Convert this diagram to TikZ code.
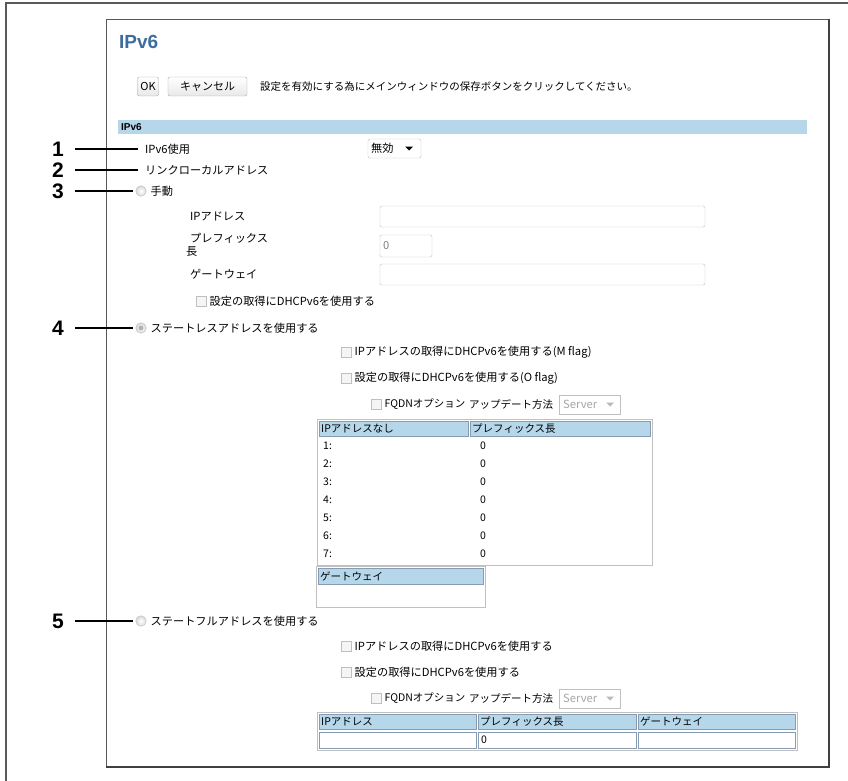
\documentclass[tikz,border=0pt]{standalone}
\usepackage{fontspec}
\setmainfont{Noto Sans CJK JP}
\newfontfamily\arial{Liberation Sans}
\usetikzlibrary{positioning}

\definecolor{hdrblue}{RGB}{182,214,234}
\definecolor{hdrline}{RGB}{135,155,178}
\definecolor{titleblue}{RGB}{62,108,158}
\definecolor{boxline}{RGB}{192,192,192}

\tikzset{
  ui/.style={anchor=west, inner sep=0pt, font=\fontsize{11.2}{12}\selectfont},
  small/.style={anchor=west, inner sep=0pt, font=\fontsize{10.5}{11}\selectfont},
  num/.style={inner sep=0pt, font=\arial\bfseries\fontsize{21}{21}\selectfont},
  lead/.style={line width=1.6pt, shorten <=11pt},
  field/.style={draw=boxline, fill=white, rounded corners=1.5pt},
  chk/.style={draw=gray!50, fill=gray!8, minimum size=10.5pt, inner sep=0pt},
  radio/.style={circle, draw=gray!55, inner color=white, outer color=gray!30, minimum size=10.5pt, inner sep=0pt},
  btn/.style={draw=gray!70, rounded corners=2pt, top color=white, bottom color=gray!18,
    inner sep=0pt, minimum height=19pt, font=\fontsize{11}{12}\selectfont},
  hdr/.style={draw=hdrline, fill=hdrblue},
}

\begin{document}
\begin{tikzpicture}[x=1pt, y=-1pt]
  \useasboundingbox (0,0) rectangle (848,781);

  % frames
  \draw[black!65, line width=1.4pt] (6,781) -- (6,3) -- (848,3);
  \draw[gray!70!black, line width=0.8pt] (106,19) rectangle (829,767);
  \draw[black!75, line width=1.3pt] (829,19) -- (829,767) -- (106,767);

  % title and buttons
  \node[anchor=west, inner sep=0pt, text=titleblue, font=\arial\bfseries\fontsize{19}{19}\selectfont] (title) at (119,42) {IPv6};
  \node[btn, minimum width=21pt] (ok) at (148,86.5) {OK};
  \node[btn, minimum width=79pt] (cancel) at (207.5,86.5) {キャンセル};
  \node[small] (msg) at (260,86.5) {設定を有効にする為にメインウィンドウの保存ボタンをクリックしてください。};

  % section bar
  \fill[hdrblue] (118,120) rectangle (807,134);
  \node[anchor=west, inner sep=0pt, font=\arial\bfseries\fontsize{10}{10}\selectfont] (sec) at (121,127) {IPv6};

  % 1, 2
  \node[num] (n1) at (58,149) {1};
  \node[ui] (t1) at (145,149) {IPv6使用};
  \draw[field] (368,139) rectangle (421,158);
  \node[ui] (sel) at (371,148.5) {無効};
  \fill (405,146.5) -- (413,146.5) -- (409,150.5) -- cycle;
  \draw[lead, shorten >=7pt] (n1.east) -- (t1.west);

  \node[num] (n2) at (58,170) {2};
  \node[ui] (t2) at (145,170) {リンクローカルアドレス};
  \draw[lead, shorten >=7pt] (n2.east) -- (t2.west);

  % 3 manual
  \node[num] (n3) at (58,191) {3};
  \node[radio] (r3) at (141,191) {};
  \node[ui, right=4pt of r3] (t3) {手動};
  \draw[lead, shorten >=3pt] (n3.east) -- (r3.west);

  \node[ui] (ipa) at (190,216) {IPアドレス};
  \draw[field] (380,206) rectangle (705,227);
  \node[ui] (pre) at (190,238) {プレフィックス};
  \node[ui] (pre2) at (186,251) {長};
  \draw[field] (380,235) rectangle (432,257);
  \node[ui, text=gray] (pre0) at (383,246) {0};
  \node[ui] (gw) at (190,274) {ゲートウェイ};
  \draw[field] (380,264) rectangle (705,285);
  \node[chk] (c0) at (201,301) {};
  \node[ui, right=3pt of c0] (c0t) {設定の取得にDHCPv6を使用する};

  % 4 stateless
  \node[num] (n4) at (58,328) {4};
  \node[radio] (r4) at (141,328) {};
  \fill[gray!60] (r4) circle (2.4pt);
  \node[ui, right=4pt of r4] (t4) {ステートレスアドレスを使用する};
  \draw[lead, shorten >=3pt] (n4.east) -- (r4.west);

  \node[chk] (c1) at (346,352) {};
  \node[ui, right=3pt of c1] (c1t) {IPアドレスの取得にDHCPv6を使用する(M flag)};
  \node[chk] (c2) at (346,378) {};
  \node[ui, right=3pt of c2] (c2t) {設定の取得にDHCPv6を使用する(O flag)};
  \node[chk] (c3) at (376,404) {};
  \node[small, right=3pt of c3] (c3t) {FQDNオプション};
  \node[small] (upd) at (469,404) {アップデート方法};
  \draw[draw=boxline, fill=white] (559,395) rectangle (620,414);
  \node[ui, text=gray!70] (srv) at (563,404.5) {Server};
  \fill[gray!55] (606,402.5) -- (614,402.5) -- (610,406.5) -- cycle;

  % address table
  \draw[draw=boxline, fill=white] (317,419) rectangle (652,565);
  \draw[hdr] (319,421) rectangle (468,436);
  \draw[hdr] (470,421) rectangle (650,436);
  \node[small] (h1) at (321,428.5) {IPアドレスなし};
  \node[small] (h2) at (472,428.5) {プレフィックス長};
  \foreach \i in {1,...,7} {
    \node[small] (ix\i) at (323,{428+18*\i}) {\i:};
    \node[small] (pl\i) at (480,{428+18*\i}) {0};
  }
  \draw[draw=boxline, fill=white] (316,566) rectangle (485,607);
  \draw[hdr] (318,568) rectangle (483,584);
  \node[small] (h3) at (320,576) {ゲートウェイ};

  % 5 stateful
  \node[num] (n5) at (58,621) {5};
  \node[radio] (r5) at (141,621) {};
  \node[ui, right=4pt of r5] (t5) {ステートフルアドレスを使用する};
  \draw[lead, shorten >=3pt] (n5.east) -- (r5.west);

  \node[chk] (c4) at (346,646) {};
  \node[ui, right=3pt of c4] (c4t) {IPアドレスの取得にDHCPv6を使用する};
  \node[chk] (c5) at (346,672) {};
  \node[ui, right=3pt of c5] (c5t) {設定の取得にDHCPv6を使用する};
  \node[chk] (c6) at (376,698) {};
  \node[small, right=3pt of c6] (c6t) {FQDNオプション};
  \node[small] (upd2) at (469,698) {アップデート方法};
  \draw[draw=boxline, fill=white] (559,689) rectangle (620,708);
  \node[ui, text=gray!70] (srv2) at (563,698.5) {Server};
  \fill[gray!55] (606,696.5) -- (614,696.5) -- (610,700.5) -- cycle;

  \draw[draw=boxline, fill=white] (317,712) rectangle (797,750);
  \draw[hdr] (319,714) rectangle (476,729);
  \draw[hdr] (478,714) rectangle (636,729);
  \draw[hdr] (638,714) rectangle (795,729);
  \node[small] (h4) at (321,721.5) {IPアドレス};
  \node[small] (h5) at (480,721.5) {プレフィックス長};
  \node[small] (h6) at (640,721.5) {ゲートウェイ};
  \draw[draw=hdrline, fill=white] (319,732) rectangle (476,748);
  \draw[draw=hdrline, fill=white] (478,732) rectangle (636,748);
  \draw[draw=hdrline, fill=white] (638,732) rectangle (795,748);
  \node[small] (v5) at (481,740) {0};
\end{tikzpicture}
\end{document}
